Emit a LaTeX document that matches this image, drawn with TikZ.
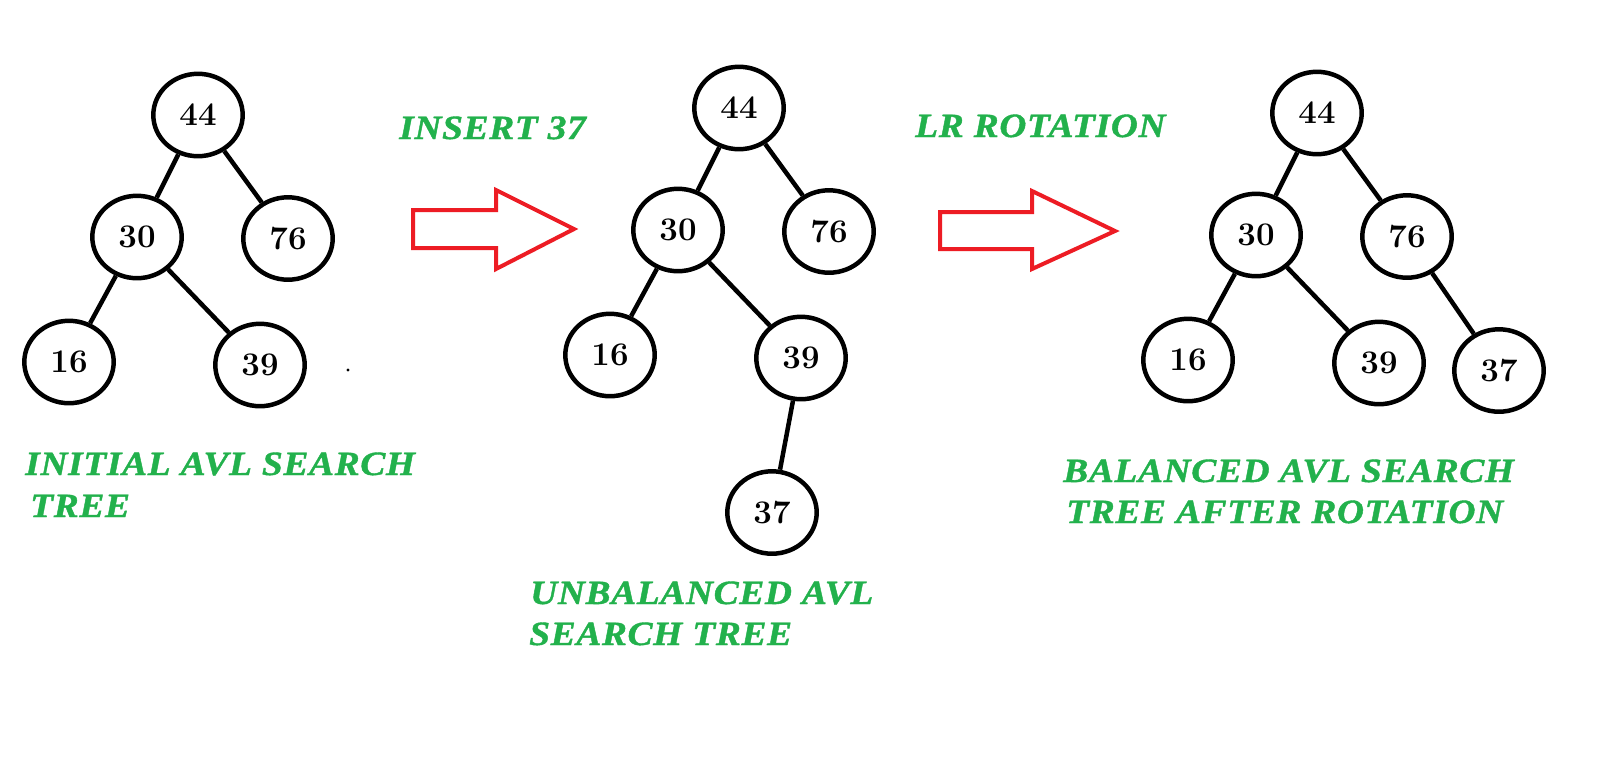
\documentclass[tikz,border=0pt]{standalone}
\usepackage{fontspec}
\usetikzlibrary{positioning,shapes.geometric}
\newfontfamily\capfont[FakeStretch=1.1,LetterSpace=2,FakeBold=1.2]{Liberation Serif}
\definecolor{paintgreen}{RGB}{34,177,76}
\definecolor{paintred}{RGB}{237,28,36}

\begin{document}
\begin{tikzpicture}[x=0.5pt,y=-0.5pt,on grid,line width=2.25pt]
  \tikzstyle{key}=[ellipse,draw,inner sep=0pt,minimum width=44.7pt,minimum height=41.2pt,
                   font=\fontsize{16.5}{18}\selectfont\bfseries]
  \tikzstyle{caption}=[anchor=base west,inner sep=0pt,text=paintgreen,
                       font=\capfont\fontsize{17}{21}\selectfont\bfseries\itshape]
  \tikzstyle{fatarrow}=[draw=paintred,line width=2pt,line join=miter]

  \fill[white] (0,0) rectangle (1602,761);
  \useasboundingbox (0,0) rectangle (1602,761);

  % initial tree
  \node[key] (i44) at (198,115) {44};
  \node[key] (i30) [below left=61pt and 30.5pt of i44]   {30};
  \node[key] (i76) [below right=61.75pt and 45pt of i44] {76};
  \node[key] (i16) [below left=62.5pt and 34pt of i30]   {16};
  \node[key] (i39) [below right=64pt and 61.5pt of i30]  {39};
  \fill (348,370) circle (0.8pt);

  \path (i44) edge (i30)
              edge (i76)
        (i30) edge (i16)
              edge (i39);

  \node[caption] (initA) at (23,475) {INITIAL AVL SEARCH};
  \node[caption] (initB) at (28,517) {TREE};

  % insert arrow
  \node[caption] (ins) at (397,139) {INSERT 37};
  \draw[fatarrow] (413,210) -- (496,210) -- (496,190) -- (574,229)
                  -- (496,269) -- (496,248) -- (413,248) -- cycle;

  % unbalanced tree
  \node[key] (u44) at (739,108) {44};
  \node[key] (u30) [below left=61pt and 30.5pt of u44]    {30};
  \node[key] (u76) [below right=61.75pt and 45pt of u44]  {76};
  \node[key] (u16) [below left=62.5pt and 34pt of u30]    {16};
  \node[key] (u39) [below right=64pt and 61.5pt of u30]   {39};
  \node[key] (u37) [below left=77.25pt and 14.5pt of u39] {37};

  \path (u44) edge (u30)
              edge (u76)
        (u30) edge (u16)
              edge (u39)
        (u39) edge (u37);

  \node[caption] (unbA) at (528,604) {UNBALANCED AVL};
  \node[caption] (unbB) at (527,645) {SEARCH TREE};

  % rotation arrow
  \node[caption] (rot) at (913,137) {LR ROTATION};
  \draw[fatarrow] (940,212) -- (1032,212) -- (1032,191) -- (1115,231)
                  -- (1032,269) -- (1032,249) -- (940,249) -- cycle;

  % balanced tree
  \node[key] (b44) at (1317,113) {44};
  \node[key] (b30) [below left=61pt and 30.5pt of b44]   {30};
  \node[key] (b76) [below right=61.75pt and 45pt of b44] {76};
  \node[key] (b16) [below left=62.5pt and 34pt of b30]   {16};
  \node[key] (b39) [below right=64pt and 61.5pt of b30]  {39};
  \node[key] (b37) [below right=67pt and 46pt of b76]    {37};

  \path (b44) edge (b30)
              edge (b76)
        (b30) edge (b16)
              edge (b39)
        (b76) edge (b37);

  \node[caption] (balA) at (1061,482) {BALANCED AVL SEARCH};
  \node[caption] (balB) at (1064,523) {TREE AFTER ROTATION};
\end{tikzpicture}
\end{document}
